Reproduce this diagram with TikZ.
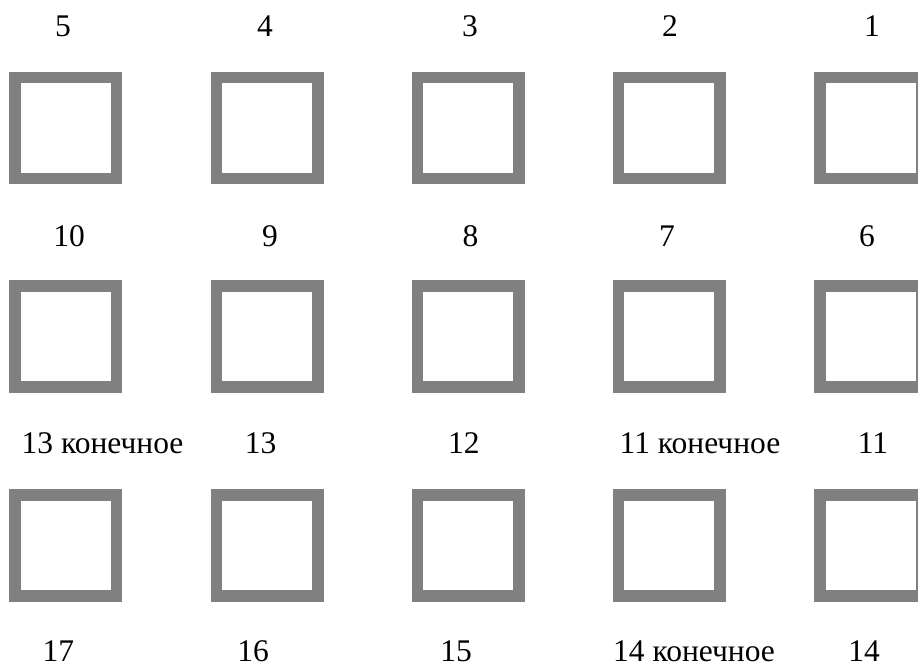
\documentclass[tikz,border=0pt]{standalone}
\usepackage{fontspec}
\setmainfont{Liberation Serif}
\newfontfamily\lblfont{Liberation Serif}
\definecolor{boxgray}{HTML}{808080}
\begin{document}
\begin{tikzpicture}[x=1pt,y=-1pt,
  cell/.style={draw=boxgray,fill=white,line width=11.5pt,minimum width=101.5pt,minimum height=101pt,inner sep=0pt,outer sep=0pt},
  lbl/.style={anchor=base,inner sep=0pt,font=\lblfont\fontsize{31.5}{38}\selectfont}]
\useasboundingbox (0,0) rectangle (918,666);
\clip (0,0) rectangle (918,666);
% squares
\foreach \r/\y in {1/128,2/336.3,3/545.3}{
  \foreach \c/\x in {1/65.5,2/267,3/468,4/669.2,5/870.8}{
    \node[cell] (s\r\c) at (\x,\y) {};
  }
}
% row 1 labels
\node[lbl] (l5) at (63,37) {5};
\node[lbl] (l4) at (265,37) {4};
\node[lbl] (l3) at (470,37) {3};
\node[lbl] (l2) at (670,37) {2};
\node[lbl] (l1) at (872,37) {1};
% row 2 labels
\node[lbl] (l10) at (69,246.7) {10};
\node[lbl] (l9) at (270,246.7) {9};
\node[lbl] (l8) at (470.5,246.7) {8};
\node[lbl] (l7) at (667,246.7) {7};
\node[lbl] (l6) at (867,246.7) {6};
% row 3 labels
\node[lbl] (l13k) at (102.5,453) {13 конечное};
\node[lbl] (l13) at (260.5,453) {13};
\node[lbl] (l12) at (463.8,453) {12};
\node[lbl] (l11k) at (700,453) {11 конечное};
\node[lbl] (l11) at (873,453) {11};
% row 4 labels
\node[lbl] (l17) at (58.3,661) {17};
\node[lbl] (l16) at (253,661) {16};
\node[lbl] (l15) at (456,661) {15};
\node[lbl] (l14k) at (694,661) {14 конечное};
\node[lbl] (l14) at (864,661) {14};
\end{tikzpicture}
\end{document}
